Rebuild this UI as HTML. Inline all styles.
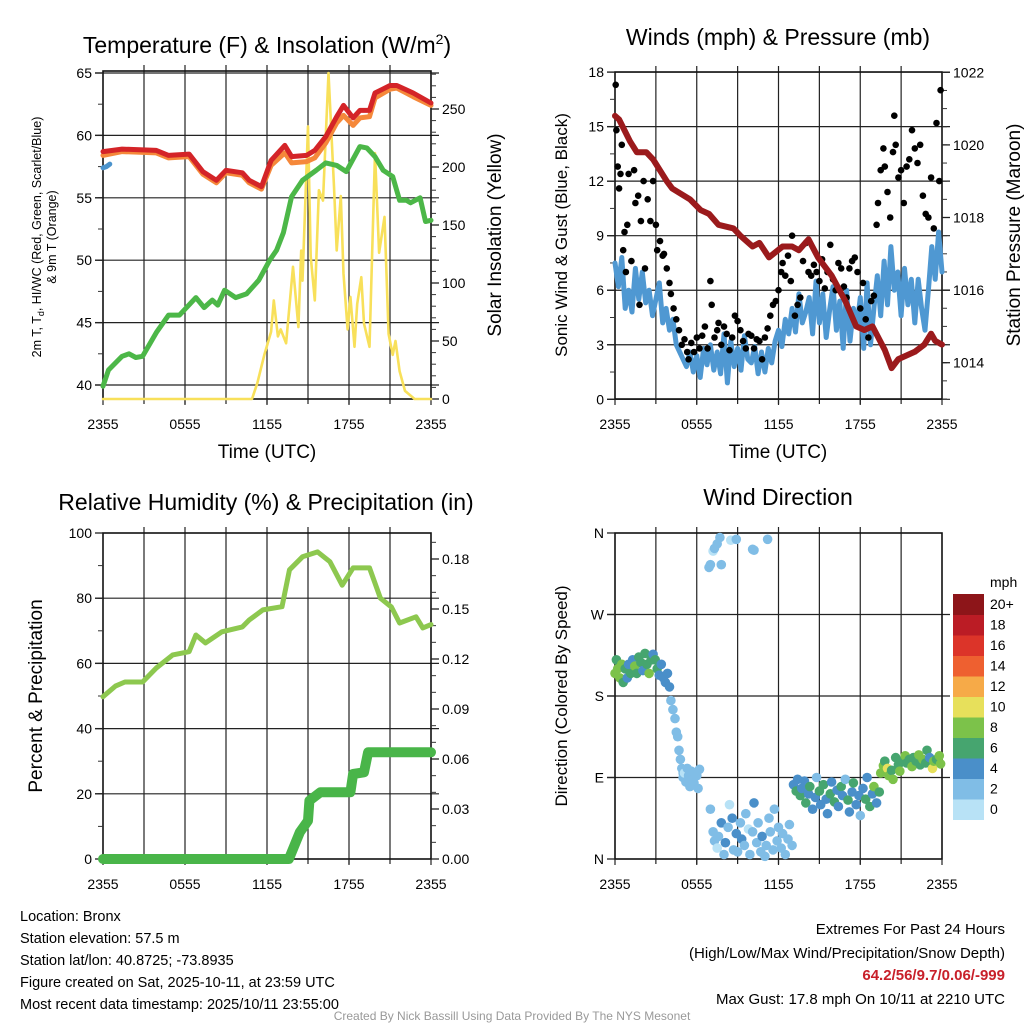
<!DOCTYPE html>
<html><head><meta charset="utf-8">
<style>
html,body{margin:0;padding:0;background:#fff;}
svg{display:block;font-family:"Liberation Sans",sans-serif;}
</style></head>
<body>
<svg id="chart" width="1024" height="1024" viewBox="0 0 1024 1024" xmlns="http://www.w3.org/2000/svg">
<rect width="1024" height="1024" fill="#fff"/>
<g id="layer"></g>
<text x="267" y="53" font-size="23" text-anchor="middle">Temperature (F) &amp; Insolation (W/m<tspan font-size="14" dy="-9">2</tspan><tspan dy="9">)</tspan></text>
<text x="778" y="45" font-size="23" text-anchor="middle">Winds (mph) &amp; Pressure (mb)</text>
<text x="266" y="510" font-size="23" text-anchor="middle">Relative Humidity (%) &amp; Precipitation (in)</text>
<text x="778" y="505" font-size="23" text-anchor="middle">Wind Direction</text>
<text x="267" y="458" font-size="19" text-anchor="middle">Time (UTC)</text>
<text x="778" y="458" font-size="19" text-anchor="middle">Time (UTC)</text>
<text font-size="12.5" text-anchor="middle" transform="translate(41,237) rotate(-90)">2m T, T<tspan font-size="9" dy="3">d</tspan><tspan dy="-3">, HI/WC (Red, Green, Scarlet/Blue)</tspan></text>
<text font-size="12.5" text-anchor="middle" transform="translate(56,237) rotate(-90)">&amp; 9m T (Orange)</text>
<text font-size="19" text-anchor="middle" transform="translate(501,235) rotate(-90)">Solar Insolation (Yellow)</text>
<text font-size="17" text-anchor="middle" transform="translate(567,235) rotate(-90)">Sonic Wind &amp; Gust (Blue, Black)</text>
<text font-size="19" text-anchor="middle" transform="translate(1020,235) rotate(-90)">Station Pressure (Maroon)</text>
<text font-size="19" text-anchor="middle" transform="translate(42,696) rotate(-90)">Percent &amp; Precipitation</text>
<text font-size="17" text-anchor="middle" transform="translate(567,696) rotate(-90)">Direction (Colored By Speed)</text>
<text x="990" y="587" font-size="14">mph</text>
<g font-size="14.5">
<text x="20" y="921">Location: Bronx</text>
<text x="20" y="943">Station elevation: 57.5 m</text>
<text x="20" y="965">Station lat/lon: 40.8725; -73.8935</text>
<text x="20" y="987">Figure created on Sat, 2025-10-11, at 23:59 UTC</text>
<text x="20" y="1009">Most recent data timestamp: 2025/10/11 23:55:00</text>
</g>
<g font-size="15" text-anchor="end">
<text x="1005" y="934">Extremes For Past 24 Hours</text>
<text x="1005" y="958">(High/Low/Max Wind/Precipitation/Snow Depth)</text>
<text x="1005" y="980" fill="#c8202a" font-weight="bold">64.2/56/9.7/0.06/-999</text>
<text x="1005" y="1004">Max Gust: 17.8 mph On 10/11 at 2210 UTC</text>
</g>
<text x="512" y="1020" font-size="12" fill="#999" text-anchor="middle">Created By Nick Bassill Using Data Provided By The NYS Mesonet</text>
</svg>
<script>
// ---------- DATA ----------
const xTickLabels = ["2355","0555","1155","1755","2355"];
const tempTicks = [40,45,50,55,60,65];
const solarTicks = [0,50,100,150,200,250];
const windTicks = [0,3,6,9,12,15,18];
const pressTicks = [1014,1016,1018,1020,1022];
const rhTicks = [0,20,40,60,80,100];
const precipTicks = ["0.00","0.03","0.06","0.09","0.12","0.15","0.18"];
const dirTickLabels = ["N","E","S","W","N"];
const speedBinLabels = ["0","2","4","6","8","10","12","14","16","18","20+"];
const speedColors = ["#b8e2f6","#80bde6","#4a8fc9","#46a56f","#7cc24a","#e7e05b","#f6aa48","#ee6030","#dc3429","#bb1c25","#8d1519"];

const tempT = [0,1.4,3.9,4.8,6.3,7.3,8.3,9.0,10.2,10.7,11.6,12.3,13.3,13.8,14.9,15.5,16.3,17.1,17.6,18.3,18.8,19.5,19.9,21,21.5,22.7,24];
const tempRed = [58.7,58.9,58.8,58.4,58.5,57.1,56.4,57.2,57.0,56.4,55.9,58.0,59.2,58.3,58.4,58.8,59.9,61.5,62.4,61.4,62.0,62.0,63.4,64.0,64.0,63.4,62.6];
const tempOrange = [58.4,58.7,58.6,58.2,58.3,56.9,56.2,57.0,56.8,56.2,55.7,57.6,58.6,57.8,57.9,58.2,59.4,61.0,61.6,60.8,61.4,61.5,63.0,63.7,63.8,63.1,62.4];
const dewT = [0,0.4,1.4,1.9,2.4,2.9,3.9,4.8,5.6,6.8,7.4,8.0,8.4,8.9,9.7,10.5,11.4,12.2,12.7,13.2,13.8,14.6,15.6,16.3,17.1,17.8,18.8,19.3,19.9,20.5,21.2,21.7,22.2,22.5,23.2,23.6,24];
const dewV = [39.9,41.2,42.3,42.5,42.2,42.3,44.2,45.6,45.6,47.0,46.2,46.8,46.4,47.6,47.0,47.3,48.4,50.0,50.8,52.2,55.1,56.4,57.2,57.8,57.6,57.1,59.1,59.0,58.3,57.2,56.7,54.8,54.8,54.6,55.0,53.1,53.2];
const hiwcT = [0,0.25,0.5];
const hiwcV = [57.4,57.5,57.7];
const solarT = [0,10.9,11.3,11.8,12.3,12.5,12.8,13.0,13.4,13.9,14.3,14.5,14.6,15.0,15.2,15.5,15.8,16.1,16.5,16.9,17.1,17.4,17.6,17.9,18.1,18.4,18.6,18.9,19.1,19.5,19.9,20.2,20.6,20.9,21.2,21.4,21.7,22.1,22.8,24];
const solarV = [0,0,14,38,58,85,54,60,48,114,62,128,102,235,123,85,180,171,281,183,128,175,108,60,88,45,82,105,65,45,212,126,157,56,38,50,24,7,0,0];

const windV = [7.5,6.2,7.8,5.0,6.0,4.8,7.2,5.5,7.0,5.3,6.0,4.6,5.5,6.4,4.2,5.0,3.8,4.4,3.0,2.6,2.2,1.8,2.6,1.5,2.4,1.2,2.8,1.9,3.0,1.6,2.6,1.4,3.6,0.9,3.2,1.8,2.8,1.6,3.5,2.2,2.0,2.9,1.4,2.6,1.5,2.8,2.0,3.2,3.8,2.9,4.4,3.6,5.0,3.7,5.8,4.2,4.8,5.6,3.6,6.5,4.2,5.8,3.4,4.9,6.2,3.8,5.4,2.8,6.0,3.2,5.0,4.0,5.6,2.8,6.4,3.0,5.0,6.8,4.6,7.6,5.2,8.4,6.0,7.0,4.6,7.2,5.2,6.6,4.2,6.6,5.0,3.8,6.0,8.4,6.6,9.2,7.0];
const gustT = [0.05,0.1,0.2,0.3,0.4,0.5,0.6,0.7,0.8,0.9,1.0,1.2,1.4,1.5,1.7,1.8,1.9,2.1,2.2,2.4,2.6,2.8,3.0,3.1,3.3,3.5,3.6,3.8,4.0,4.1,4.3,4.5,4.7,4.9,5.1,5.3,5.4,5.6,5.8,6.0,6.2,6.4,6.6,6.8,7.0,7.1,7.3,7.5,7.6,7.8,8.0,8.2,8.4,8.6,8.8,9.0,9.2,9.4,9.6,9.8,10.0,10.2,10.4,10.6,10.8,11.0,11.2,11.4,11.6,11.8,12.0,12.2,12.3,12.5,12.7,12.9,13.0,13.2,13.4,13.6,13.8,14.0,14.2,14.4,14.6,14.8,15.0,15.2,15.4,15.6,15.8,16.0,16.2,16.4,16.6,16.8,17.0,17.2,17.4,17.6,17.8,18.0,18.2,18.4,18.6,18.8,19.0,19.2,19.3,19.5,19.7,19.8,20.0,20.2,20.4,20.5,20.6,20.8,21.0,21.2,21.4,21.6,21.8,22.0,22.2,22.4,22.6,22.8,23.0,23.2,23.4,23.6,23.8,23.9];
const gustV = [17.3,14.8,12.8,11.6,12.4,14.0,8.2,9.2,7.0,9.6,12.4,7.6,12.6,10.8,11.2,5.2,9.8,12.0,7.2,11.0,9.8,12.0,9.6,8.2,8.7,7.9,8.0,7.2,6.4,5.8,5.0,4.4,3.8,3.0,3.3,2.6,2.2,3.1,2.6,3.4,2.8,3.5,4.0,2.8,6.5,5.2,3.4,3.8,4.2,3.0,4.0,3.6,2.7,3.4,4.6,4.3,3.8,3.2,2.8,3.6,3.5,2.8,3.3,3.2,2.2,3.4,3.9,4.6,5.2,5.4,6.0,7.0,7.5,6.8,7.9,6.5,9.0,4.6,5.2,5.6,7.6,8.6,7.0,6.8,7.4,7.0,6.5,7.7,6.1,7.0,8.5,6.6,6.0,7.5,7.2,6.2,5.6,7.2,7.6,7.8,7.0,5.0,6.4,4.4,3.4,5.4,5.7,9.6,10.8,12.6,13.8,12.8,11.4,10.0,13.6,15.6,14.0,12.2,12.6,10.8,12.8,13.2,14.8,13.8,13.0,14.0,11.2,10.2,10.0,12.2,9.4,15.2,12.0,17.0];
const pressT = [0,0.3,1.1,1.6,2.3,2.8,3.8,4.2,5.5,6.3,6.9,7.6,8.7,9.2,10.1,10.6,11.3,12.3,13.0,13.5,14.2,14.9,15.9,16.9,17.7,18.3,18.9,19.8,20.3,20.8,22.0,22.7,23.2,23.5,24];
const pressV = [1020.8,1020.7,1020.1,1019.8,1019.8,1019.6,1019.0,1018.8,1018.5,1018.2,1018.1,1017.8,1017.7,1017.5,1017.2,1017.3,1016.9,1017.2,1017.2,1017.1,1017.4,1016.9,1016.4,1015.7,1015.0,1014.9,1015.0,1014.35,1013.85,1014.1,1014.3,1014.5,1014.8,1014.6,1014.5];

const rhT = [0,0.93,1.6,2.9,3.9,5.1,6.3,6.8,7.5,8.7,10.2,10.7,11.7,13.1,13.65,14.6,15.7,16.6,17.5,18.3,19.5,20.3,21.1,21.7,22.9,23.4,24];
const rhV = [49.8,53.1,54.3,54.3,58.6,62.6,63.6,68.7,66.3,69.7,71.2,73.3,76.4,77.4,88.7,92.7,94.2,91.2,84.0,89.3,89.3,80.0,77.3,72.4,74.3,70.9,71.9];
const precipT = [0,13.6,14.4,15.0,15.1,15.9,18.1,18.3,19.1,19.4,24];
const precipV = [0,0.0,0.016,0.023,0.035,0.040,0.040,0.051,0.052,0.064,0.064];

const dirT = [0,0.1,0.2,0.35,0.5,0.6,0.75,0.9,1.0,1.15,1.3,1.45,1.6,1.75,1.9,2.05,2.2,2.35,2.5,2.65,2.8,2.95,3.1,3.25,3.4,3.55,3.7,3.85,4.0,
4.1,4.25,4.4,4.5,4.6,4.7,4.8,4.9,5.0,
5.0,5.1,5.2,5.3,5.4,5.5,5.6,5.7,5.8,5.9,6.0,6.1,6.2,
6.9,7.0,7.2,7.3,7.5,7.7,7.8,8.5,8.9,10.1,10.2,11.2,
7.0,7.2,7.3,7.5,7.6,7.8,8.0,8.1,8.3,8.4,8.6,8.7,8.9,9.0,9.2,9.3,9.5,9.6,9.8,9.9,10.1,10.2,10.4,10.5,10.7,10.8,11.0,11.1,11.3,11.4,11.6,11.7,11.9,12.0,12.2,12.3,12.5,12.7,12.8,13.0,
13.1,13.3,13.4,13.6,13.7,13.9,14.0,14.2,14.3,14.5,14.7,14.8,15.0,15.1,15.3,15.5,15.6,15.8,15.9,16.1,16.3,16.4,16.6,16.7,16.9,17.1,17.2,17.4,17.5,17.7,17.9,18.0,18.2,18.4,18.5,18.7,18.9,19.0,19.2,19.4,
19.5,19.7,19.8,20.0,20.1,20.3,20.4,20.6,20.8,20.9,21.1,21.3,21.4,21.6,21.8,21.9,22.1,22.3,22.4,22.6,22.8,22.9,23.1,23.3,23.4,23.6,23.8,23.9];
const dirV = [205,220,210,200,215,195,210,200,215,205,220,213,205,223,217,208,227,215,205,220,226,220,210,203,215,200,195,205,190,
175,165,155,140,135,120,110,100,95,
90,95,85,100,92,80,97,88,84,95,92,78,99,
322,325,340,343,348,355,325,352,353,342,341,353,
55,30,20,12,25,40,5,18,35,60,45,10,28,8,40,22,15,50,33,5,30,62,18,40,8,25,3,15,45,30,10,55,20,35,12,28,5,22,38,15,
82,75,88,70,78,86,62,72,80,55,68,90,75,60,82,66,50,72,85,63,76,58,80,70,88,65,52,74,84,60,70,48,78,66,90,58,72,80,62,74,
95,103,108,100,92,98,88,112,104,97,108,114,106,110,102,112,108,115,104,110,106,120,112,100,108,110,114,105];
const dirS = [8,6,8,8,8,6,6,4,4,6,4,8,6,6,6,4,6,6,8,6,4,6,6,4,4,4,4,4,4,
2,2,2,2,2,2,2,2,2,
2,0,2,2,2,2,2,2,2,2,2,2,2,
2,2,0,2,2,2,2,0,2,2,2,2,
2,2,2,0,2,4,2,4,2,0,4,2,4,2,2,4,2,2,0,2,2,4,2,2,2,4,2,2,2,2,2,2,2,2,2,2,2,2,2,2,
4,6,4,6,4,4,6,4,6,4,4,2,6,4,6,4,4,6,4,6,4,4,6,4,2,6,4,4,6,4,4,2,4,6,4,6,4,8,4,6,
8,8,6,10,8,6,8,6,6,8,6,8,6,6,8,6,6,8,6,8,6,6,4,10,8,6,8,8];

// ---------- DRAW ----------
const NS="http://www.w3.org/2000/svg";
const layer=document.getElementById('layer');
function mk(tag,attrs,parent){const e=document.createElementNS(NS,tag);for(const k in attrs)e.setAttribute(k,attrs[k]);(parent||layer).appendChild(e);return e;}
function txt(s,attrs,parent){const e=mk('text',attrs,parent);e.textContent=s;return e;}

const P1={x0:103,x1:431,y0:71,y1:399};
const P2={x0:615,x1:942,y0:72,y1:399};
const P3={x0:103,x1:431,y0:533,y1:859};
const P4={x0:615,x1:942,y0:533,y1:859};
function xs(P){return h=>P.x0+(P.x1-P.x0)*h/24;}
const x1s=xs(P1),x2s=xs(P2),x3s=xs(P3),x4s=xs(P4);
const yTemp=v=>385-(v-40)*12.48;
const ySolar=v=>399-v*1.16;
const yWind=v=>399.3-v*18.18;
const yPress=v=>362.7-(v-1014)*36.3;
const yRH=v=>859-v*3.26;
const yPrec=v=>859-v*1666.7;
const yDir=v=>859-v*0.9056;

function frame(P,name,hLines){
  const g=mk('g',{});
  
  
  for(let i=1;i<8;i++){const x=P.x0+(P.x1-P.x0)*i/8;
    mk('line',{x1:x,x2:x,y1:P.y0-6,y2:P.y1+5,stroke:'#222','stroke-width':1.2},g);}
  hLines.forEach(y=>mk('line',{x1:P.x0-8,x2:P.x1+8,y1:y,y2:y,stroke:'#222','stroke-width':1.2},g));
  mk('rect',{x:P.x0,y:P.y0,width:P.x1-P.x0,height:P.y1-P.y0,fill:'none',stroke:'#111','stroke-width':1.6},g);
  xTickLabels.forEach((l,i)=>{const x=P.x0+(P.x1-P.x0)*i/4;
    mk('line',{x1:x,x2:x,y1:P.y1,y2:P.y1+6,stroke:'#222','stroke-width':1.2},g);
    const t=txt(l,{x:x,y:P.y1+30,'font-size':14,'text-anchor':'middle'},g);
    
    
  });
  return g;
}
function axisTicks(P,side,vals,yf,labels,minorVals,name){
  const g=mk('g',{});
  
  
  const x=side==='l'?P.x0:P.x1, d=side==='l'?-1:1;
  minorVals.forEach(v=>{const y=yf(v);if(y<P.y0-1||y>P.y1+1)return;mk('line',{x1:x,x2:x+d*5,y1:y,y2:y,stroke:'#333','stroke-width':1},g);});
  vals.forEach((v,i)=>{const y=yf(v);
    mk('line',{x1:x,x2:x+d*8,y1:y,y2:y,stroke:'#222','stroke-width':1.3},g);
    const t=txt(labels[i],{x:x+d*11,y:y+5,'font-size':14,'text-anchor':side==='l'?'end':'start'},g);
    
    
  });
}
function line(ts,vs,xf,yf,color,w,name){
  const d=ts.map((t,i)=>(i?'L':'M')+xf(t).toFixed(1)+','+yf(vs[i]).toFixed(1)).join('');
  const p=mk('path',{d:d,fill:'none',stroke:color,'stroke-width':w,'stroke-linejoin':'round','stroke-linecap':'round'});
  
  
  return p;
}
function range(a,b,s){const r=[];for(let v=a;v<=b+1e-9;v+=s)r.push(+v.toFixed(4));return r;}

// Panel 1
frame(P1,'temperature',tempTicks.map(yTemp));
axisTicks(P1,'l',tempTicks,yTemp,tempTicks.map(String),range(37.5,65,2.5),'temp-y-axis');
axisTicks(P1,'r',solarTicks,ySolar,solarTicks.map(String),range(0,280,10),'solar-y-axis');
line(solarT,solarV,x1s,ySolar,'#f8e05a',2.6,'solar-insolation-line');
line(dewT,dewV,x1s,yTemp,'#4cb748',5,'dewpoint-line');
line(tempT,tempOrange,x1s,yTemp,'#f5883a',5,'temp-9m-line');
line(tempT,tempRed,x1s,yTemp,'#d42428',5,'temp-2m-line');
line(hiwcT,hiwcV,x1s,yTemp,'#4b93cc',5,'heat-index-line');

// Panel 2
frame(P2,'winds',windTicks.map(yWind));
axisTicks(P2,'l',windTicks,yWind,windTicks.map(String),range(0,18,1.5),'wind-y-axis');
axisTicks(P2,'r',pressTicks,yPress,pressTicks.map(String),range(1013,1022,0.5),'pressure-y-axis');
line(windV.map((v,i)=>i*0.25),windV,x2s,yWind,'#4f98d2',5,'sonic-wind-line');
gustT.forEach((t,i)=>{
  const c=mk('circle',{cx:x2s(t).toFixed(1),cy:yWind(gustV[i]).toFixed(1),r:3.3,fill:'#000'});
  
  
});
line(pressT,pressV,x2s,yPress,'#9b1a1c',6,'pressure-line');

// Panel 3
frame(P3,'humidity',[20,40,60,80].map(yRH));
axisTicks(P3,'l',rhTicks,yRH,rhTicks.map(String),range(0,100,10),'rh-y-axis');
axisTicks(P3,'r',precipTicks.map(Number),yPrec,precipTicks,range(0,0.19,0.01),'precip-y-axis');
line(rhT,rhV,x3s,yRH,'#8dc84f',5,'relative-humidity-line');
line(precipT,precipV,x3s,yPrec,'#49b549',10,'precipitation-line');

// Panel 4
frame(P4,'wind-direction',[90,180,270].map(yDir));
axisTicks(P4,'l',[0,90,180,270,360],yDir,dirTickLabels,[],'direction-y-axis');
dirT.forEach((t,i)=>{
  const bin=Math.min(10,Math.floor(dirS[i]/2));
  const c=mk('circle',{cx:x4s(t).toFixed(1),cy:yDir(dirV[i]).toFixed(1),r:4.8,fill:speedColors[bin]});
  
  
});
// colorbar
const cb=mk('g',{});


const cbTop=594,cbH=20.5;
speedBinLabels.forEach((l,i)=>{
  const j=10-i;
  mk('rect',{x:953,y:cbTop+j*cbH,width:31,height:cbH+0.5,fill:speedColors[i]},cb);
  const t=txt(l,{x:990,y:cbTop+j*cbH+15,'font-size':14},cb);
  
  
});
</script>
</body></html>
